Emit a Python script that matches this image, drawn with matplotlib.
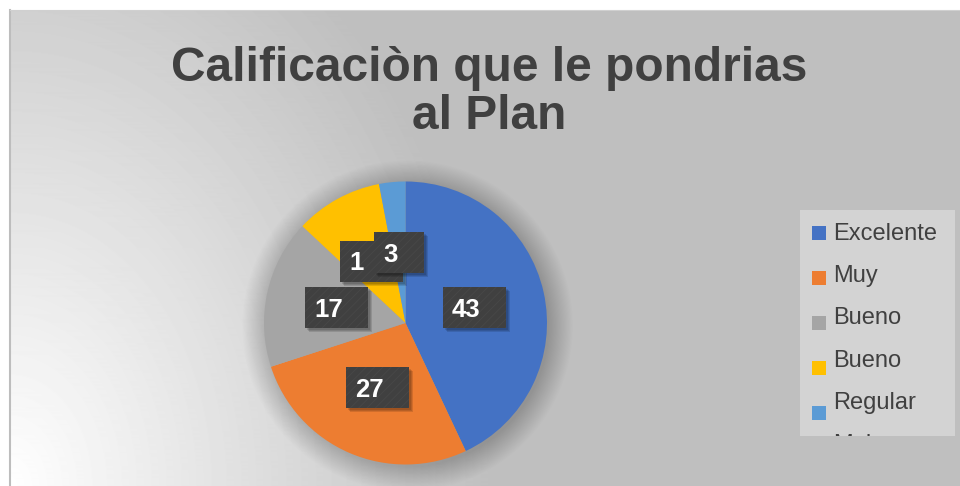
import matplotlib
matplotlib.use('Agg')
import matplotlib.pyplot as plt
import numpy as np
from matplotlib.patches import Rectangle, Circle

plt.rcParams['font.family'] = ['Liberation Sans', 'DejaVu Sans']
plt.rcParams['hatch.linewidth'] = 0.5

categorias = ["Excelente", "Muy Bueno", "Bueno", "Regular", "Malo"]
valores = [43, 27, 17, 10, 3]
# labels as they appear on the chart (the "10" box is cut to "1")
etiquetas = ["43", "27", "17", "1", "3"]
colores = ["#4472C4", "#ED7D31", "#A5A5A5", "#FFC000", "#5B9BD5"]
titulo = ["Calificaciòn que le pondrias", "al Plan"]

W, H = 960, 486
fig = plt.figure(figsize=(9.6, 4.86), dpi=100, facecolor="white")


def fx(px):
    return px / W


def fy(py):
    return 1 - py / H


# chart area background (light corner at bottom-left)
bg = fig.add_axes([fx(10), 0, 950 / W, (H - 10) / H])
yy, xx = np.mgrid[10:486, 10:960]
d = np.sqrt(((xx - 10) / 480) ** 2 + ((yy - 486) / 650) ** 2)
v = 191 + 64 * np.clip(1 - d, 0, 1)
bg.imshow(v, cmap='gray', vmin=0, vmax=255, aspect='auto', extent=[0, 1, 0, 1])
bg.set_xticks([])
bg.set_yticks([])
for s in ['right', 'bottom']:
    bg.spines[s].set_visible(False)
bg.spines['left'].set_color('#bdbdbd')
bg.spines['top'].set_color('#d0d0d0')
bg.spines['left'].set_linewidth(1.5)

# title
fig.text(fx(489), fy(81), titulo[0], ha='center', va='baseline',
         fontsize=34.5, fontweight='bold', color='#404040')
fig.text(fx(489), fy(129), titulo[1], ha='center', va='baseline',
         fontsize=34.5, fontweight='bold', color='#404040')

# pie
cx, cy, r = 405.5, 323, 141.5
half = 160
ax = fig.add_axes([fx(cx - half), fy(cy + half), 2 * half / W, 2 * half / H])
ax.patch.set_alpha(0)

# soft shadow around the pie
for k in range(22):
    ax.add_patch(Circle((0.015, -0.02), 1 + k * 0.008, color='black',
                        alpha=0.008, lw=0, zorder=0, clip_on=False))

wedges, _ = ax.pie(valores, colors=colores, startangle=90, counterclock=False,
                   radius=1, wedgeprops=dict(linewidth=0))
L = half / r
ax.set_xlim(-L, L)
ax.set_ylim(-L, L)
ax.axis('off')

# data labels
for i, (w, val, lab) in enumerate(zip(wedges, valores, etiquetas)):
    ang = np.deg2rad((w.theta1 + w.theta2) / 2)
    x, y = 0.5 * np.cos(ang), 0.5 * np.sin(ang)
    bw = (36 + 13.5 * len(str(val))) / r
    bh = 41 / r
    z = 5 + 3 * i
    for k in range(3):
        ax.add_patch(Rectangle((x - bw / 2 + (2 + k) / r, y - bh / 2 - (2 + k) / r),
                               bw, bh, color='black', alpha=0.12, lw=0, zorder=z))
    ax.add_patch(Rectangle((x - bw / 2, y - bh / 2), bw, bh,
                           facecolor='#404040', edgecolor='#494949', hatch='////',
                           lw=0, zorder=z + 1))
    ax.text(x - bw / 2 + 9 / r, y - 2 / r, lab, ha='left', va='center',
            fontsize=18.5, fontweight='bold', color='white', zorder=z + 2)

# legend (box cuts off the last entry)
lg = fig.add_axes([fx(800), fy(436), 155 / W, 226 / H])
lg.set_facecolor('#d3d3d3')
lg.set_xlim(0, 155)
lg.set_ylim(226, 0)
lg.set_xticks([])
lg.set_yticks([])
for s in lg.spines.values():
    s.set_visible(False)

lineas = [p for c in categorias for p in c.split(' ')]
for j, t in enumerate(lineas):
    lg.text(33, 24 + 42.2 * j, t, ha='left', va='center', fontsize=17,
            color='#404040', clip_on=True)
for j, c in enumerate(colores):
    lg.add_patch(Rectangle((12, 16 + 45 * j), 14, 14, color=c, lw=0))

fig.savefig('out.png', dpi=100)
